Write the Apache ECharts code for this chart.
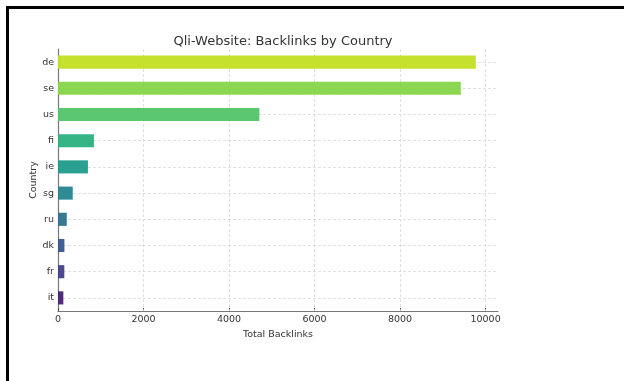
<!DOCTYPE html>
<html>
<head>
<meta charset="utf-8">
<script src="https://cdn.jsdelivr.net/npm/echarts@6/dist/echarts.min.js"></script>
<style>
html,body{margin:0;padding:0;background:#fff;}
#frame{position:absolute;left:6px;top:6px;width:618px;height:375px;border-top:3px solid #000;border-left:3px solid #000;box-sizing:border-box;}
#chart{position:absolute;left:0;top:0;width:624px;height:381px;}
</style>
</head>
<body>
<div id="frame"></div>
<div id="chart"></div>
<script>
const countries = ['de','se','us','fi','ie','sg','ru','dk','fr','it'];
const backlinks = [9770, 9420, 4710, 840, 700, 345, 205, 150, 148, 125];
const barColors = ['#c2df23','#86d549','#52c569','#2ab07f','#1e9b8a','#25858e','#2d708e','#38588c','#424086','#482173'];
const xTicks = [0, 2000, 4000, 6000, 8000, 10000];

const chart = echarts.init(document.getElementById('chart'), null, {renderer:'canvas'});
const font = 'DejaVu Sans';
const gridStyle = {color: '#d8d8d8', type: [3, 2], width: 0.8};
chart.setOption({
  backgroundColor: 'transparent',
  animation: false,
  title: {
    text: 'Qli-Website: Backlinks by Country',
    left: 278, top: 30, textAlign: 'center',
    textStyle: {fontFamily: font, fontSize: 13, fontWeight: 'normal', color: '#333'}
  },
  grid: {left: 58, right: 126, top: 49, bottom: 70, containLabel: false},
  xAxis: {
    type: 'value', min: 0, max: 10290,
    name: 'Total Backlinks', nameLocation: 'middle', nameGap: 14,
    nameTextStyle: {fontFamily: font, fontSize: 9.5, color: '#333'},
    axisLine: {show: true, lineStyle: {color: '#777', width: 1.2}},
    axisTick: {show: true, inside: true, length: 3, customValues: xTicks, lineStyle: {color: '#444'}},
    axisLabel: {customValues: xTicks, fontFamily: font, fontSize: 9.5, color: '#333', margin: 4,
      formatter: v => String(v)},
    splitLine: {show: false}
  },
  yAxis: {
    type: 'category', data: countries, inverse: true,
    name: 'Country', nameLocation: 'middle', nameGap: 19, nameRotate: 90, nameMoveOverlap: false,
    nameTextStyle: {fontFamily: font, fontSize: 9.5, color: '#333'},
    axisLine: {show: true, lineStyle: {color: '#777', width: 1.2}},
    axisTick: {show: true, inside: true, length: 3, alignWithLabel: true, lineStyle: {color: '#444'}},
    axisLabel: {fontFamily: font, fontSize: 9.5, color: '#333', margin: 4},
    splitLine: {show: false}
  },
  series: [{
    type: 'line', data: [], z: 1, silent: true,
    markLine: {
      silent: true, symbol: 'none', label: {show: false}, z: 1,
      lineStyle: gridStyle,
      data: countries.map(c => ({yAxis: c})).concat(xTicks.slice(1).map(v => ({xAxis: v})))
    }
  }, {
    type: 'bar', z: 3,
    data: backlinks.map((v, i) => ({value: v, itemStyle: {color: barColors[i]}})),
    barWidth: '50%',
    itemStyle: {opacity: 0.95}
  }]
});
</script>
</body>
</html>
